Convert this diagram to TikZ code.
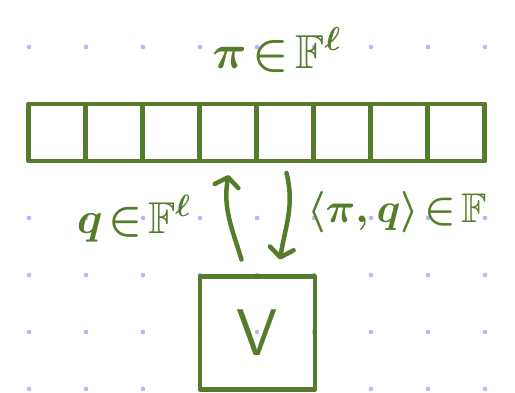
\documentclass[tikz,border=0pt]{standalone}
\usepackage{amssymb}
\usetikzlibrary{arrows.meta}
\definecolor{ink}{RGB}{84,124,42}
\definecolor{dotc}{RGB}{182,182,250}
\newcommand{\vfont}{\fontsize{66}{70}\selectfont\sffamily}
\tikzset{
  hand/.style={draw=ink, line width=4.5pt, line cap=round, line join=round},
  cell/.style={hand, minimum width=57pt, minimum height=57pt, inner sep=0pt, outer sep=0pt},
  vbox/.style={hand, minimum width=115pt, minimum height=113pt, inner sep=0pt, outer sep=0pt, text=ink, font=\vfont},
  conn/.style={hand, -{Straight Barb[length=9pt,width=24pt,line cap=round,line join=round]}},
  lbl/.style={text=ink, inner sep=0pt, anchor=base, font=\huge, scale=2.15},
  ttl/.style={text=ink, inner sep=0pt, anchor=base, font=\huge, scale=2.3},
}
\begin{document}
\begin{tikzpicture}[x=1pt, y=1pt]
\useasboundingbox (0,0) rectangle (515,-392);
% dot grid
\foreach \i in {0,...,8}{
  \foreach \j in {0,...,6}{
    \fill[dotc] (29+57*\i, -47-57*\j) circle (2.3pt);
  }
}
% array cells
\foreach \k in {1,...,8}{
  \node[cell] (c\k) at (57*\k, -132.5) {};
}
% verifier box
\node[vbox] (v) at (257.5,-333) {V};
% title
\node[ttl] (title) at (277,-68) {{\boldmath$\pi\!\in\!\mathbb{F}^{\ell}$}};
% arrows
\draw[conn] ([xshift=-16pt,yshift=17pt]v.north) to[out=107,in=-100] ([xshift=0.5pt,yshift=-14pt]c4.south);
\draw[conn] ([xshift=1.5pt,yshift=-12pt]c5.south) to[out=-76,in=81] ([xshift=22.5pt,yshift=17pt]v.north);
% labels
\node[lbl] (ql) at (134,-233) {{\boldmath$q\!\in\!\mathbb{F}^{\ell}$}};
\node[lbl, scale=0.93] (ip) at (397,-222) {{\boldmath$\langle\pi,q\rangle\!\in\!\mathbb{F}$}};
\end{tikzpicture}
\end{document}
